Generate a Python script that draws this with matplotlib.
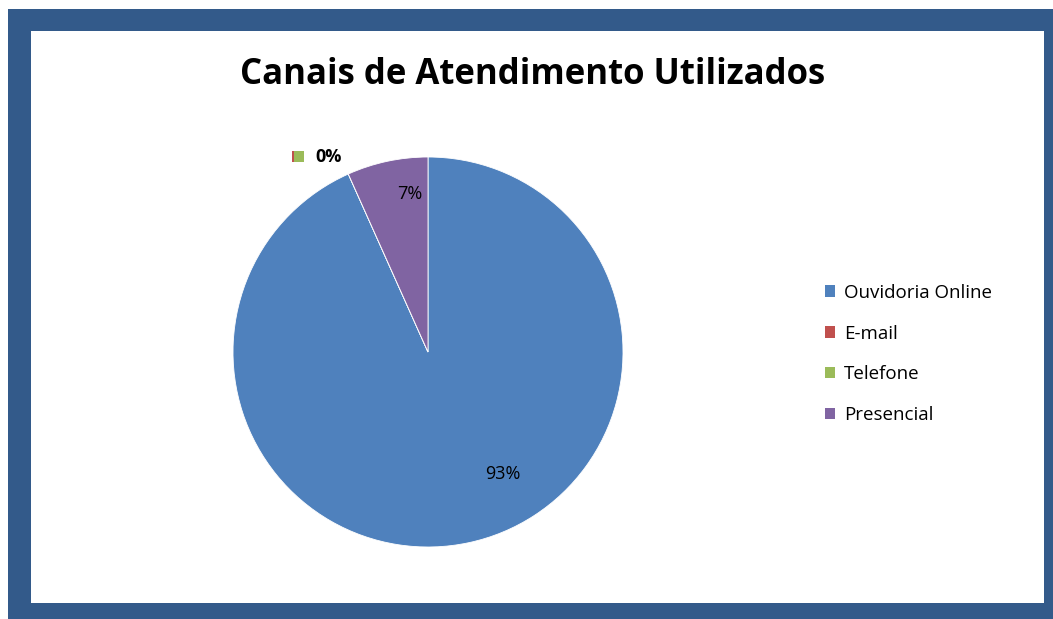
import matplotlib.pyplot as plt
from matplotlib.patches import Rectangle, Patch
import numpy as np

# data
canais = ['Ouvidoria Online', 'E-mail', 'Telefone', 'Presencial']
valores = [93.3, 0.0, 0.0, 6.7]
cores = ['#4F81BD', '#C0504D', '#9BBB59', '#8064A2']

W, H = 1053, 619
plt.rcParams['font.family'] = ['Open Sans', 'DejaVu Sans']

fig = plt.figure(figsize=(W / 100, H / 100), dpi=100)

# blue frame and white plot area (drawn behind the axes)
fig.patches.append(Rectangle((8 / W, 0), 1, (H - 9) / H, transform=fig.transFigure,
                             facecolor='#335A8A', edgecolor='none', zorder=-2))
fig.patches.append(Rectangle((31 / W, (H - 603) / H), (1044 - 31) / W, (603 - 31) / H,
                             transform=fig.transFigure, facecolor='white',
                             edgecolor='none', zorder=-1))

fig.text(533 / W, 1 - 75 / H, 'Canais de Atendimento Utilizados', ha='center', va='center',
         fontsize=25, fontweight='bold', color='black')

# pie
cx, cy, r = 428, 352, 195
ax = fig.add_axes([(cx - r) / W, (H - cy - r) / H, 2 * r / W, 2 * r / H])
ax.pie(valores, colors=cores, startangle=90, counterclock=False, radius=1,
       wedgeprops=dict(edgecolor='white', linewidth=0.6))
ax.set_xlim(-1, 1)
ax.set_ylim(-1, 1)
ax.set_aspect('equal')
ax.axis('off')

total = sum(valores)
pct = [f'{v / total * 100:.0f}%' for v in valores]

# data labels (Excel best fit positions)
ax.text(0.385, -0.626, pct[0], ha='center', va='center', fontsize=13)
ax.text(-0.092, 0.81, pct[3], ha='center', va='center', fontsize=13)
# overlapping labels for E-mail and Telefone, with legend keys
ax.add_patch(Rectangle((-0.697, 0.975), 0.05, 0.055, facecolor=cores[1], edgecolor='none',
                       clip_on=False))
ax.add_patch(Rectangle((-0.687, 0.975), 0.05, 0.055, facecolor=cores[2], edgecolor='none',
                       clip_on=False))
ax.text(-0.58, 1.0, pct[1], ha='left', va='center', fontsize=13, fontweight='bold',
        clip_on=False)

handles = [Patch(facecolor=c, edgecolor='none') for c in cores]
fig.legend(handles, canais, loc='center left', bbox_to_anchor=(808 / W, 1 - 354 / H),
           frameon=False, fontsize=13.5, handlelength=0.55, handleheight=0.55,
           handletextpad=0.45, labelspacing=1.22)

fig.savefig('out.png', dpi=100)
